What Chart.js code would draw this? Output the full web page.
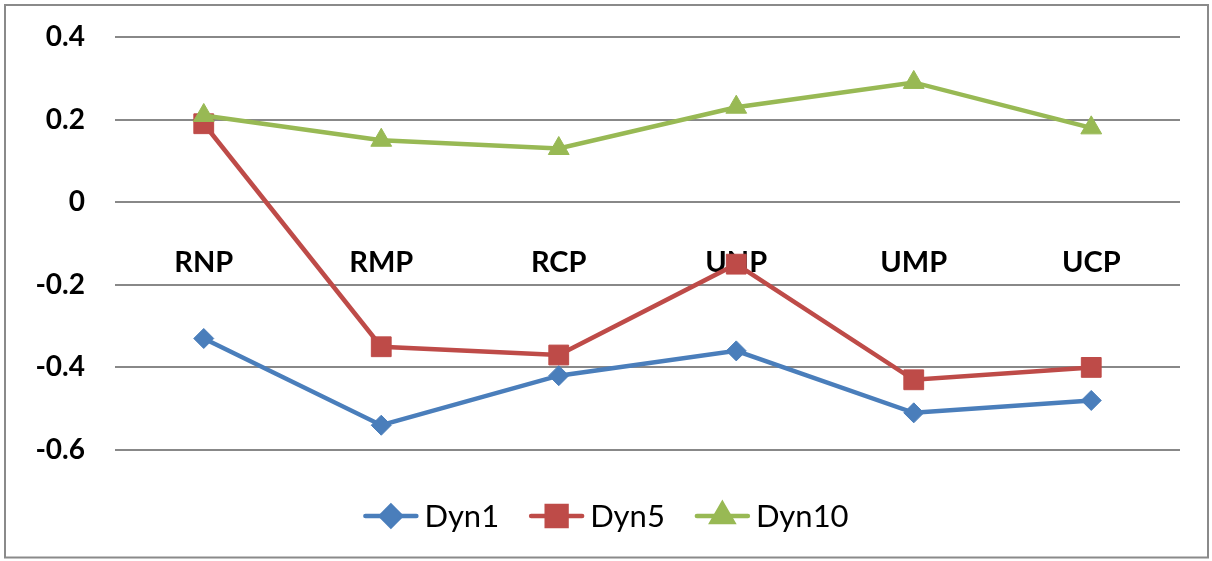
<!DOCTYPE html>
<html>
<head>
<meta charset="utf-8">
<script src="https://cdn.jsdelivr.net/npm/chart.js@4/dist/chart.umd.min.js"></script>
<style>
  html, body { margin: 0; padding: 0; background: #fff; }
  #wrap { position: relative; width: 1212px; height: 561px; }
</style>
</head>
<body>
<div id="wrap"><canvas id="chart"></canvas></div>
<script>
// Categories along the horizontal axis
const categories = ['RNP', 'RMP', 'RCP', 'UNP', 'UMP', 'UCP'];

// Series values
const dyn1 = [-0.33, -0.54, -0.42, -0.36, -0.51, -0.48];
const dyn5 = [0.19, -0.35, -0.37, -0.15, -0.43, -0.40];
const dyn10 = [0.21, 0.15, 0.13, 0.23, 0.29, 0.18];

// Value axis tick labels
const yTicks = [0.4, 0.2, 0, -0.2, -0.4, -0.6];

const series = [
  { label: 'Dyn1', data: dyn1, color: '#4A7EBB', style: 'rectRot', radius: 10, order: 2 },
  { label: 'Dyn5', data: dyn5, color: '#BE4B48', style: 'rect', radius: 14, order: 1 },
  { label: 'Dyn10', data: dyn10, color: '#98B954', style: 'triangle', radius: 12, order: 0 }
];

// Outer frame around the whole chart
const framePlugin = {
  id: 'frame',
  beforeDraw(chart) {
    const ctx = chart.ctx;
    ctx.save();
    ctx.fillStyle = '#fff';
    ctx.fillRect(0, 0, chart.width, chart.height);
    ctx.strokeStyle = '#8a8a8a';
    ctx.lineWidth = 2;
    ctx.strokeRect(5, 5, chart.width - 9, chart.height - 8.5);
    ctx.restore();
  }
};

// Legend with a line segment and marker for each series
const lineLegendPlugin = {
  id: 'lineLegend',
  afterDraw(chart) {
    const ctx = chart.ctx;
    const font = '31px Lato';
    const segLen = 55, textGap = 6, itemGap = 30;
    ctx.save();
    ctx.font = font;
    const widths = series.map(s => segLen + textGap + ctx.measureText(s.label).width);
    const total = widths.reduce((a, b) => a + b, 0) + itemGap * (series.length - 1);
    let x = chart.width / 2 - total / 2;
    const y = 516;
    series.forEach((s, i) => {
      ctx.strokeStyle = s.color;
      ctx.lineWidth = 4.5;
      ctx.lineCap = 'round';
      ctx.beginPath();
      ctx.moveTo(x + 2, y);
      ctx.lineTo(x + segLen - 2, y);
      ctx.stroke();
      ctx.fillStyle = s.color;
      Chart.helpers.drawPoint(ctx, {
        pointStyle: s.style, radius: s.radius, rotation: 0, borderWidth: 1
      }, x + segLen / 2, y);
      ctx.fill();
      ctx.fillStyle = '#000';
      ctx.textBaseline = 'middle';
      ctx.textAlign = 'left';
      ctx.fillText(s.label, x + segLen + textGap, y + 1);
      x += widths[i] + itemGap;
    });
    ctx.restore();
  }
};

new Chart(document.getElementById('chart'), {
  type: 'line',
  data: {
    labels: categories,
    datasets: series.map(s => ({
      label: s.label,
      data: s.data,
      order: s.order,
      borderColor: s.color,
      backgroundColor: s.color,
      borderWidth: 4.5,
      pointStyle: s.style,
      pointRadius: s.radius,
      pointHoverRadius: s.radius,
      pointBorderWidth: 1,
      pointBorderColor: s.color,
      pointBackgroundColor: s.color,
      tension: 0,
      fill: false
    }))
  },
  options: {
    responsive: true,
    maintainAspectRatio: false,
    animation: false,
    events: [],
    layout: { padding: { left: 0, right: 32, top: 37, bottom: 111 } },
    plugins: {
      legend: { display: false },
      tooltip: { enabled: false }
    },
    scales: {
      x: {
        type: 'category',
        position: { y: 0 },
        offset: true,
        z: 1,
        grid: { display: false, drawTicks: false },
        border: { display: false },
        ticks: {
          color: '#000',
          padding: 43,
          maxRotation: 0,
          font: { family: 'Lato', size: 29, weight: 'bold' }
        },
        afterFit(scale) { scale.height = 0; }
      },
      y: {
        min: -0.6,
        max: 0.4,
        grid: { color: '#888', lineWidth: 2, drawTicks: false },
        border: { display: false },
        afterBuildTicks(scale) { scale.ticks = yTicks.map(v => ({ value: v })); },
        ticks: {
          color: '#000',
          padding: 30,
          font: { family: 'Lato', size: 28, weight: 'bold' },
          callback: v => String(Math.round(v * 10) / 10)
        },
        afterFit(scale) {
          scale.width = 115;
          scale.paddingTop = 0;
          scale.paddingBottom = 0;
        }
      }
    }
  },
  plugins: [framePlugin, lineLegendPlugin]
});
</script>
</body>
</html>
